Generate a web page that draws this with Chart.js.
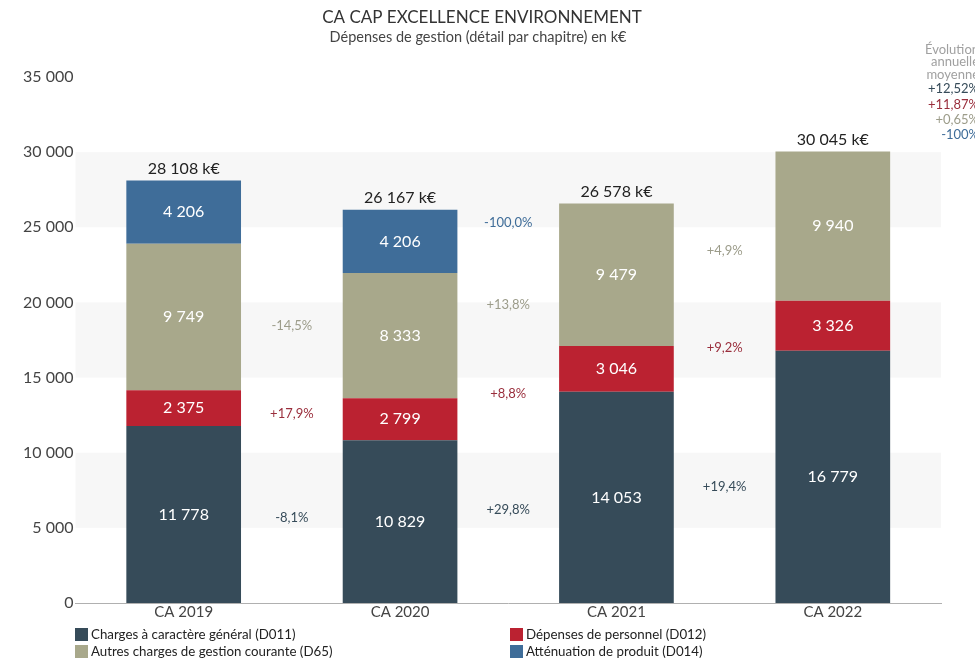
<!DOCTYPE html>
<html>
<head>
<meta charset="utf-8">
<script src="https://cdn.jsdelivr.net/npm/chart.js@4.4.1/dist/chart.umd.min.js"></script>
<style>
  body { margin: 0; background: #fff; }
  canvas { display: block; }
</style>
</head>
<body>
<canvas id="myChart" width="975" height="662" style="width: 975px; height: 662px;"></canvas>
<script>
var categories = ['CA 2019', 'CA 2020', 'CA 2021', 'CA 2022'];
var d011 = [11778, 10829, 14053, 16779];
var d012 = [2375, 2799, 3046, 3326];
var d65 = [9749, 8333, 9479, 9940];
var d014 = [4206, 4206, 0, 0];
var totals = [28108, 26167, 26578, 30045];
// evolution between two consecutive years, per series
var evolD011 = ['-8,1%', '+29,8%', '+19,4%'];
var evolD012 = ['+17,9%', '+8,8%', '+9,2%'];
var evolD65 = ['-14,5%', '+13,8%', '+4,9%'];
var evolD014 = ['', '-100,0%', ''];
var avgTitle = ['Évolution', 'annuelle', 'moyenne'];
var avgEvol = ['+12,52%', '+11,87%', '+0,65%', '-100%'];

var FONT = 'Lato, "Open Sans", sans-serif';
var colD011 = '#364b59', colD012 = '#bb2231', colD65 = '#a8a88b', colD014 = '#3f6d99';
var txtD011 = '#364b59', txtD012 = '#9a2e3c', txtD65 = '#9c9c8a', txtD014 = '#3f6d99';

function fmt(n) {
  return String(n).replace(/\B(?=(\d{3})+(?!\d))/g, ' ');
}

var labelsPlugin = {
  id: 'labelsPlugin',
  beforeDatasetsDraw: function(chart) {
    var ctx = chart.ctx, y = chart.scales.y, a = chart.chartArea;
    ctx.save();
    ctx.fillStyle = '#f7f7f7';
    for (var v = 5000; v < 35000; v += 10000) {
      var top = y.getPixelForValue(v + 5000), bot = y.getPixelForValue(v);
      ctx.fillRect(a.left, top, a.right - a.left, bot - top);
    }
    ctx.restore();
  },
  afterDatasetsDraw: function(chart) {
    var ctx = chart.ctx;
    var evols = [evolD011, evolD012, evolD65, evolD014];
    var txtCols = [txtD011, txtD012, txtD65, txtD014];
    ctx.save();
    ctx.textAlign = 'center';
    ctx.textBaseline = 'middle';
    chart.data.datasets.forEach(function(ds, i) {
      var meta = chart.getDatasetMeta(i);
      ctx.font = '16px ' + FONT;
      meta.data.forEach(function(bar, j) {
        if (!ds.data[j]) return;
        ctx.fillStyle = '#ffffff';
        ctx.fillText(fmt(ds.data[j]), bar.x, (bar.y + bar.base) / 2);
      });
      // evolution labels between bars
      ctx.font = '13px ' + FONT;
      for (var j = 0; j < meta.data.length - 1; j++) {
        if (!evols[i][j]) continue;
        var b1 = meta.data[j], b2 = meta.data[j + 1];
        var c1 = (b1.y + b1.base) / 2, c2 = (b2.y + b2.base) / 2;
        ctx.fillStyle = txtCols[i];
        ctx.fillText(evols[i][j], (b1.x + b2.x) / 2, (c1 + c2) / 2);
      }
    });
    // totals above bars
    ctx.fillStyle = '#222';
    ctx.font = '16px ' + FONT;
    var yS = chart.scales.y, xS = chart.scales.x;
    totals.forEach(function(t, j) {
      ctx.fillText(fmt(t) + ' k€', xS.getPixelForValue(j), yS.getPixelForValue(t) - 12);
    });
    ctx.restore();
  },
  afterDraw: function(chart) {
    var ctx = chart.ctx;
    ctx.save();
    // title
    ctx.textAlign = 'center';
    ctx.textBaseline = 'middle';
    ctx.fillStyle = '#333';
    ctx.font = '17px ' + FONT;
    ctx.fillText('CA CAP EXCELLENCE ENVIRONNEMENT', 482, 18);
    ctx.font = '14.5px ' + FONT;
    ctx.fillStyle = '#444';
    ctx.fillText('Dépenses de gestion (détail par chapitre) en k€', 478, 37);
    // average evolution on the right
    ctx.textAlign = 'right';
    ctx.font = '13px ' + FONT;
    ctx.fillStyle = '#a0a0a0';
    var ly = [50, 62, 75];
    avgTitle.forEach(function(s, k) { ctx.fillText(s, 979, ly[k]); });
    var cols = [txtD011, txtD012, txtD65, txtD014];
    var py = [89, 105, 120, 135];
    avgEvol.forEach(function(s, k) {
      ctx.fillStyle = cols[k];
      ctx.fillText(s, 979, py[k]);
    });
    // legend, two columns
    ctx.textAlign = 'left';
    ctx.font = '13.3px ' + FONT;
    var pos = [[75, 635], [75, 652], [510, 635], [510, 652]];
    var order = [0, 2, 1, 3];
    order.forEach(function(i, k) {
      var ds = chart.data.datasets[i];
      var p = pos[k];
      ctx.fillStyle = ds.backgroundColor;
      ctx.fillRect(p[0], p[1] - 7, 13, 13);
      ctx.fillStyle = '#222';
      ctx.fillText(ds.label, p[0] + 16, p[1]);
    });
    ctx.restore();
  }
};

var context = document.getElementById('myChart');
var chart = new Chart(context, {
  type: 'bar',
  data: {
    labels: categories,
    datasets: [
      { label: 'Charges à caractère général (D011)', data: d011, backgroundColor: colD011 },
      { label: 'Dépenses de personnel (D012)', data: d012, backgroundColor: colD012 },
      { label: 'Autres charges de gestion courante (D65)', data: d65, backgroundColor: colD65 },
      { label: 'Atténuation de produit (D014)', data: d014, backgroundColor: colD014 }
    ]
  },
  options: {
    responsive: false,
    animation: false,
    layout: { padding: { top: 77, right: 34, bottom: 41, left: 21 } },
    datasets: { bar: { barPercentage: 0.53, categoryPercentage: 1 } },
    plugins: {
      legend: { display: false },
      title: { display: false },
      tooltip: { enabled: false }
    },
    scales: {
      x: {
        stacked: true,
        grid: { display: false, drawTicks: false },
        border: { display: true, color: '#b0b0b0' },
        ticks: { color: '#444', font: { family: FONT, size: 15 }, padding: 0 }
      },
      y: {
        stacked: true,
        min: 0,
        max: 35000,
        grid: { display: false, drawTicks: false },
        border: { display: false },
        ticks: {
          stepSize: 5000,
          color: '#444',
          padding: 2,
          font: { family: FONT, size: 16 },
          callback: function(v) { return fmt(v); }
        }
      }
    }
  },
  plugins: [labelsPlugin]
});
</script>
</body>
</html>
